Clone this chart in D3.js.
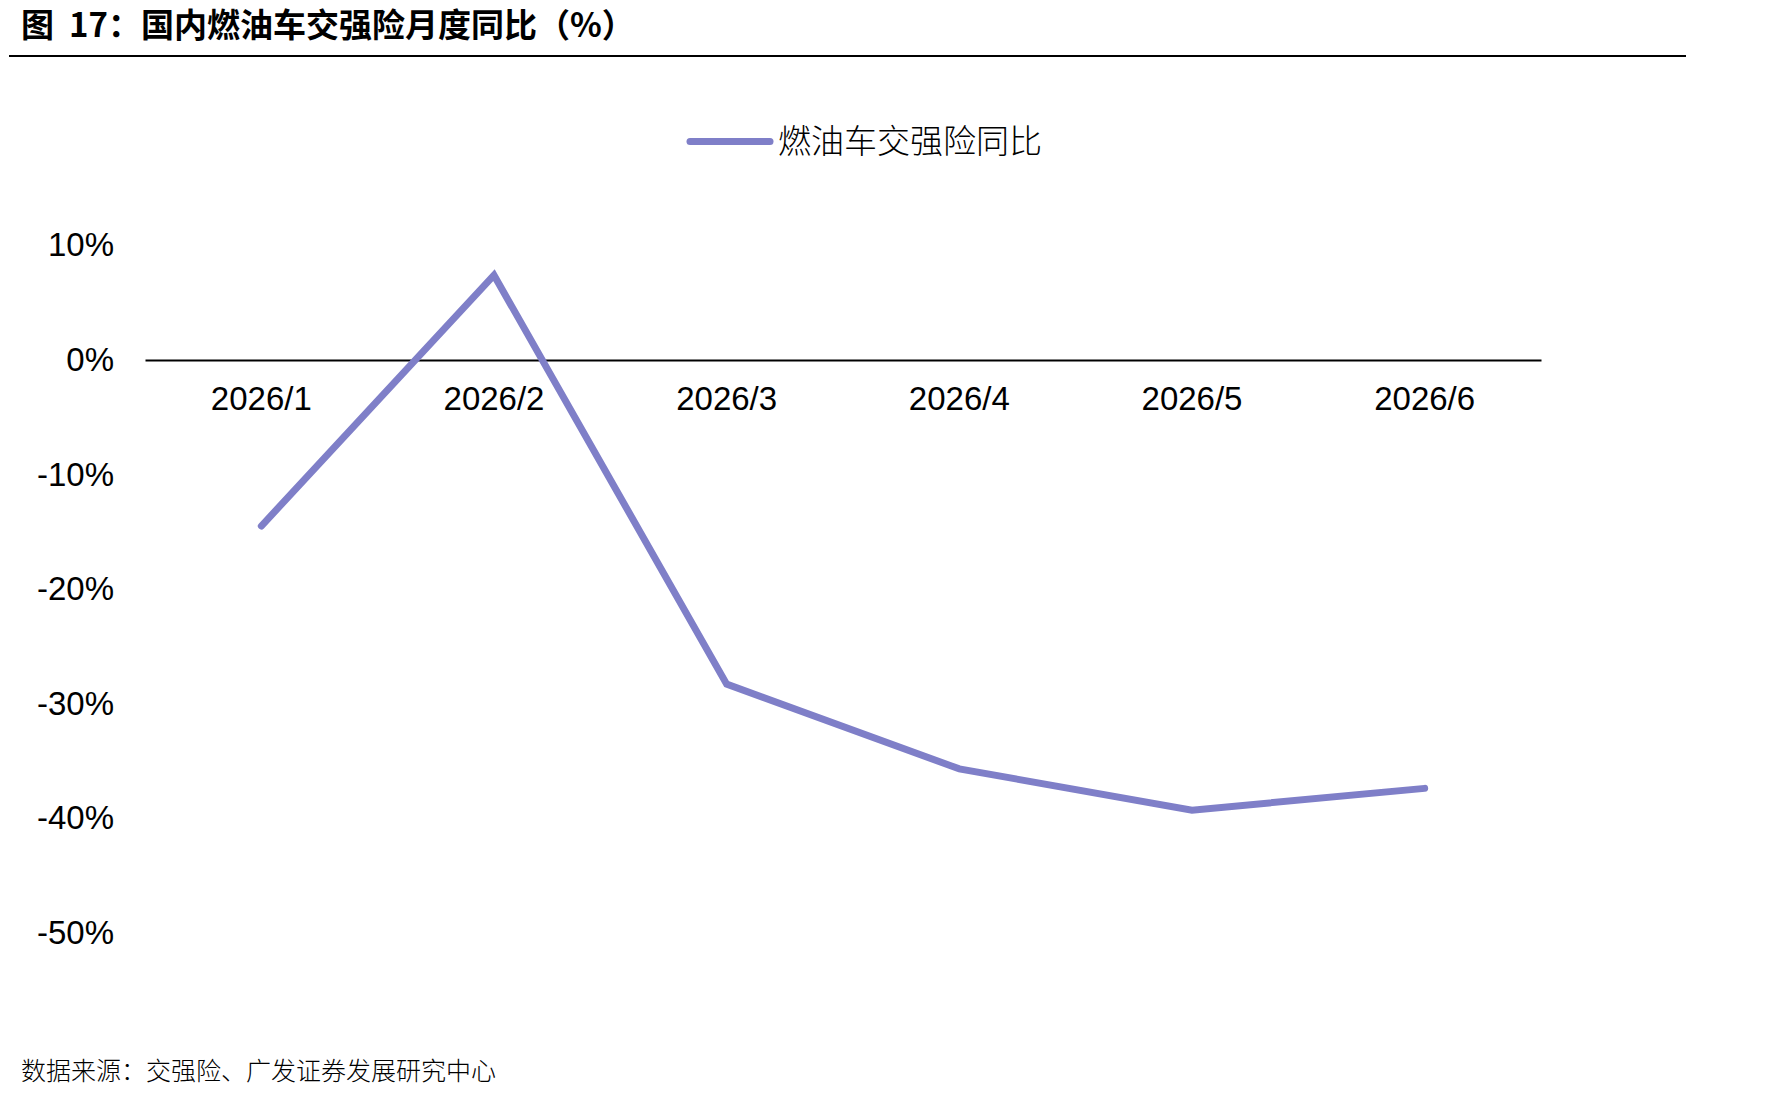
<!DOCTYPE html>
<meta charset="utf-8">
<style>
    body { margin: 0; background: #fff; }
    .title { font-family: "Noto Sans CJK SC"; font-size: 33px; font-weight: 700; fill: #000; }
    .legendText { font-family: "Noto Sans CJK SC"; font-size: 33px; font-weight: 300; fill: #000; }
    .source { font-family: "Noto Sans CJK SC"; font-size: 25px; font-weight: 300; fill: #000; }
    .axis text { font-family: "Liberation Sans", Arial, sans-serif; font-size: 33px; fill: #000; }
    .line { fill: none; stroke: #7f7fc8; stroke-width: 7px; stroke-linecap: round; stroke-linejoin: miter; }
</style>
<body>
<script src="https://d3js.org/d3.v7.min.js"></script>
<script>
    // data
    var months = ["2026/1", "2026/2", "2026/3", "2026/4", "2026/5", "2026/6"];
    var yoy = [-14.5, 7.4, -28.3, -35.7, -39.3, -37.4];
    var yTicks = [10, 0, -10, -20, -30, -40, -50];

    var width = 1790, height = 1099;
    var plot = { left: 145, right: 1541, top: 245.4, bottom: 932.7 };

    var svg = d3.select("body").append("svg").attr("width", width).attr("height", height);

    // title + rule
    svg.append("text").attr("class", "title").attr("x", 21).attr("y", 37).attr("xml:space", "preserve")
        .style("white-space", "pre").text("图  17：国内燃油车交强险月度同比（%）");
    svg.append("line").attr("x1", 9).attr("x2", 1686).attr("y1", 56).attr("y2", 56).attr("stroke", "#000").attr("stroke-width", 2);

    // scales
    var x = d3.scaleBand().domain(months).range([plot.left, plot.right]);
    var y = d3.scaleLinear().domain([10, -50]).range([plot.top, plot.bottom]);

    // y axis (labels only)
    var yAxis = svg.append("g").attr("class", "axis").attr("transform", "translate(114,0)")
        .call(d3.axisLeft(y).tickValues(yTicks).tickSize(0).tickPadding(0).tickFormat(function(d) { return d + "%"; }));
    yAxis.select(".domain").remove();

    // x axis along zero
    var xAxis = svg.append("g").attr("class", "axis").attr("transform", "translate(0," + y(0) + ")")
        .call(d3.axisBottom(x).tickSize(0).tickPadding(27));
    xAxis.select(".domain").attr("stroke", "#000").attr("stroke-width", 2);

    // line
    var line = d3.line()
        .x(function(d, i) { return x(months[i]) + x.bandwidth() / 2; })
        .y(function(d) { return y(d); });
    svg.append("path").datum(yoy).attr("class", "line").attr("d", line);

    // legend
    var lg = svg.append("g").attr("transform", "translate(690,141.5)");
    lg.append("line").attr("x1", 0).attr("x2", 80).attr("y1", 0).attr("y2", 0)
        .attr("stroke", "#7f7fc8").attr("stroke-width", 7).attr("stroke-linecap", "round");
    lg.append("text").attr("class", "legendText").attr("x", 88).attr("y", 0).attr("dy", "0.36em").text("燃油车交强险同比");

    // source
    svg.append("text").attr("class", "source").attr("x", 21).attr("y", 1080).text("数据来源：交强险、广发证券发展研究中心");
</script>
</body>
